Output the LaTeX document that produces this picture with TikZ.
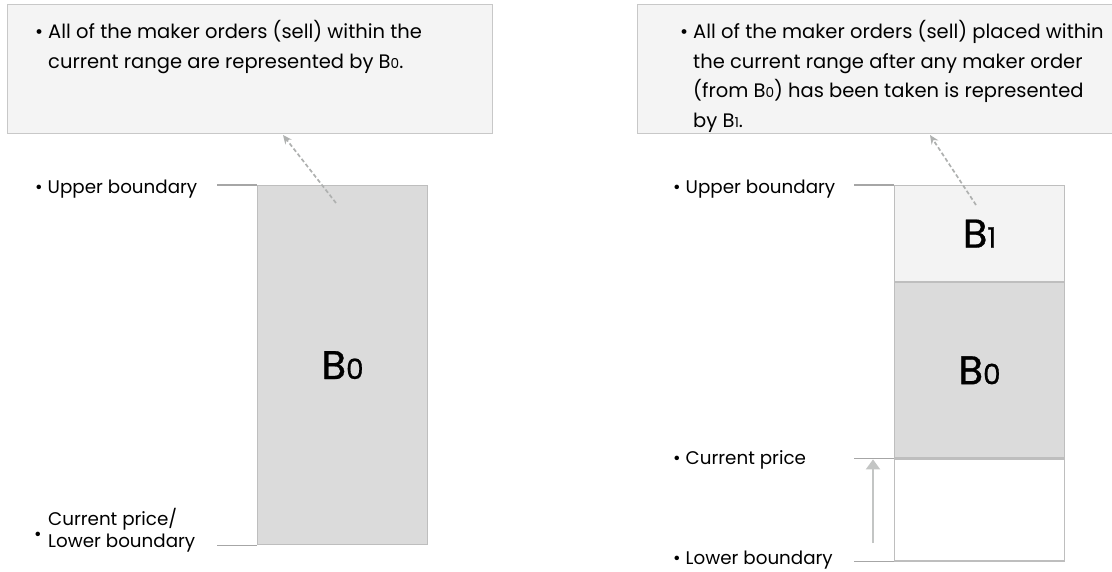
\documentclass[tikz,border=0pt]{standalone}
\usepackage{fontspec}
\setmainfont{Poppins}
\newfontfamily\barfont[FakeBold=0.8]{Poppins}
\usepackage{tikz}
\usetikzlibrary{arrows.meta}
\definecolor{notefill}{HTML}{F4F4F4}
\definecolor{noteline}{HTML}{C8C8C8}
\definecolor{barfill}{HTML}{DBDBDB}
\definecolor{topfill}{HTML}{F3F3F3}
\definecolor{barline}{HTML}{BEBEBE}
\definecolor{leadline}{HTML}{A6A6A6}
\definecolor{arrowgray}{HTML}{C3C5C4}
\newcommand{\lowdig}[1]{\scalebox{0.7}{#1}}

\begin{document}
\begin{tikzpicture}[x=1pt,y=-1pt]
            \tikzstyle{note box}=[draw=noteline,fill=notefill,line width=1.3pt,anchor=north west,inner sep=0]
            \tikzstyle{note text}=[anchor=north west,align=left,inner sep=0,font=\fontsize{19.5}{29.5}\selectfont]
            \tikzstyle{bar}=[draw=barline,line width=1.2pt,minimum width=170pt,inner sep=0,font=\barfont\fontsize{40}{40}\selectfont]
            \tikzstyle{label}=[anchor=base west,align=left,inner sep=0,font=\fontsize{18.3}{22}\selectfont]
            \tikzstyle{lead}=[draw=leadline,line width=1.2pt]
            \tikzstyle{pointer}=[draw=arrowgray!90!black,line width=1.7pt,dash pattern=on 4pt off 2.5pt,-{Stealth[length=9pt,width=8pt]}]
            \tikzstyle{rise}=[draw=arrowgray,line width=2pt,-{Triangle[length=10pt,width=14pt]}]

            \useasboundingbox (0,0) rectangle (1112,572);

            \node[note box,minimum width=485pt,minimum height=129pt] (NA) at (7,4) {};
            \node[note box,minimum width=480pt,minimum height=129pt] (NB) at (637,4) {};
            \node[note text] (TA) at (35,18) {\textbullet\hspace{5pt}\begin{tabular}[t]{@{}l@{}}All of the maker orders (sell) within the\\current range are represented by B\lowdig{0}.\end{tabular}};
            \node[note text] (TB) at (680,18) {\textbullet\hspace{5pt}\begin{tabular}[t]{@{}l@{}}All of the maker orders (sell) placed within\\the current range after any maker order\\(from B\lowdig{0}) has been taken is represented\\by B\lowdig{1}.\end{tabular}};

            \node[bar,fill=barfill,minimum height=359pt,anchor=north west] (A0) at (257,185) {B\lowdig{0}};
            \node[bar,fill=topfill,minimum height=96pt,anchor=north west] (B1) at (894,185) {B\lowdig{1}};
            \node[bar,fill=barfill,minimum height=175pt,anchor=north] (B0) at (B1.south) {B\lowdig{0}};
            \node[bar,fill=white,minimum height=102pt,anchor=north] (BE) at (B0.south) {};

            \node[label] (UA) at (35,194) {\textbullet\hspace{5pt}Upper boundary};
            \node[label] (LA) at (48,547) {Current price/\\Lower boundary};
            \node[label] (DA) at (34,540) {\textbullet};
            \node[label] (UB) at (673,194) {\textbullet\hspace{5pt}Upper boundary};
            \node[label] (CB) at (673,464) {\textbullet\hspace{5pt}Current price};
            \node[label] (LB) at (673,564) {\textbullet\hspace{5pt}Lower boundary};

            \draw[lead] (A0.north west) -- ++(-40,0);
            \draw[lead] (A0.south west) -- ++(-40,0);
            \draw[lead] (B1.north west) -- ++(-40,0);
            \draw[lead] (BE.north west) -- ++(-40,0);
            \draw[lead] (BE.south west) -- ++(-40,0);

            \coordinate (pA) at (336,203);
            \coordinate (hA) at (283,135);
            \coordinate (pB) at (976,205);
            \coordinate (hB) at (930,135);
            \draw[pointer] (pA) -- (hA);
            \draw[pointer] (pB) -- (hB);

            \coordinate (r0) at (873,543);
            \draw[rise] (r0) -- ([yshift=-1pt]r0 |- BE.north);
        \end{tikzpicture}
\end{document}
